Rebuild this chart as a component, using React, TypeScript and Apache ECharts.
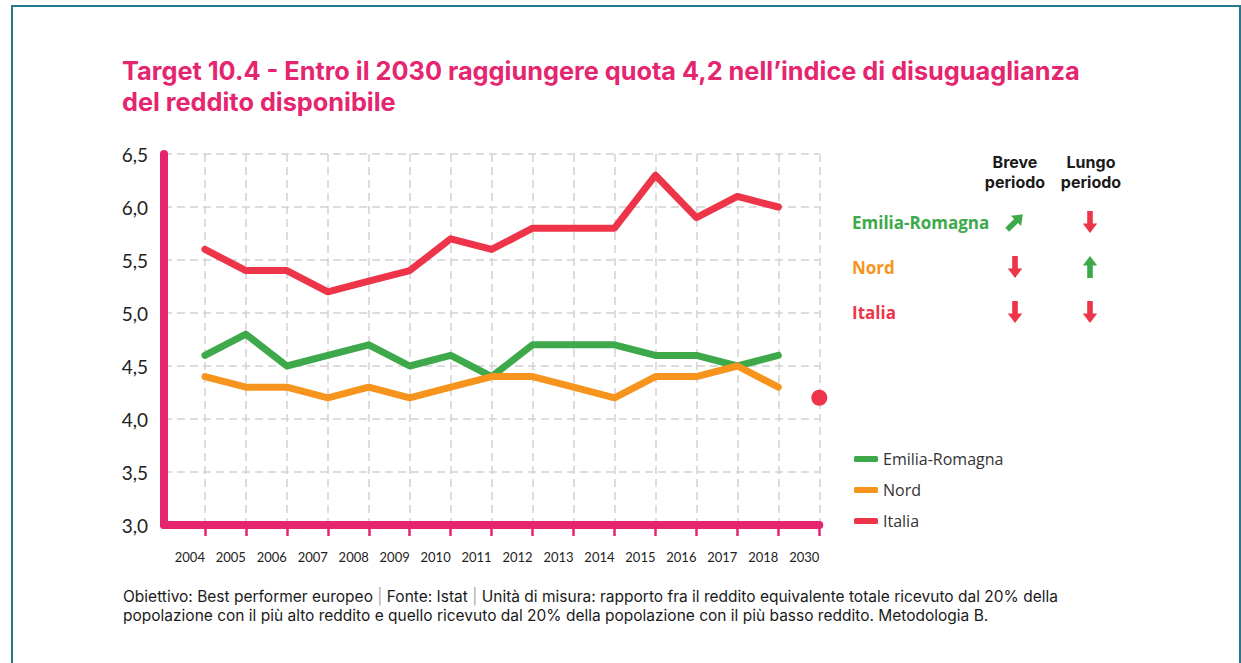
import React, { useEffect, useRef } from "react";
import * as echarts from "echarts";

const categories = ["2004","2005","2006","2007","2008","2009","2010","2011","2012","2013","2014","2015","2016","2017","2018","2030"];
const emiliaRomagna = [4.6,4.8,4.5,4.6,4.7,4.5,4.6,4.4,4.7,4.7,4.7,4.6,4.6,4.5,4.6];
const nord = [4.4,4.3,4.3,4.2,4.3,4.2,4.3,4.4,4.4,4.3,4.2,4.4,4.4,4.5,4.3];
const italia = [5.6,5.4,5.4,5.2,5.3,5.4,5.7,5.6,5.8,5.8,5.8,6.3,5.9,6.1,6.0];
const target2030 = 4.2;
const yTicks = [3.0,3.5,4.0,4.5,5.0,5.5,6.0,6.5];

const titleLines = [
  "Target 10.4 - Entro il 2030 raggiungere quota 4,2 nell’indice di disuguaglianza",
  "del reddito disponibile",
];
const trendRows = ["Emilia-Romagna","Nord","Italia"];
const trendBreve = ["upright","down","down"];
const trendLungo = ["down","up","down"];
const headerLines = [["Breve","periodo"],["Lungo","periodo"]];

const PINK = "#E5256F";
const GREEN = "#3DA94A";
const ORANGE = "#F7941E";
const RED = "#EE3448";
const FONT = "Lato";
const FONT2 = "'Open Sans'";
const FONT3 = "Inter";
const rowColors = [GREEN, ORANGE, RED];

const baseArrow = [[-2.8,-11],[2.8,-11],[2.8,1.5],[7.2,1.5],[0,11],[-7.2,1.5],[-2.8,1.5]];
function arrowPoints(dir: string) {
  const th = dir === "down" ? 0 : dir === "up" ? Math.PI : -3 * Math.PI / 4;
  const c = Math.cos(th), s = Math.sin(th);
  return baseArrow.map(([x, y]) => [x * c - y * s, x * s + y * c]);
}

export default function App() {
  const ref = useRef<HTMLDivElement>(null);
  useEffect(() => {
    document.body.style.margin = "0";
    const chart = echarts.init(ref.current!, null, { renderer: "svg" });
    const axisCats = ["", ...categories];
    const toData = (arr: number[]) => arr.map((v, i) => [categories[i], v]);
    const lineSeries = (name: string, arr: number[], color: string) => ({
      name,
      type: "line",
      data: toData(arr),
      showSymbol: false,
      symbol: "none",
      lineStyle: { width: 7, color, cap: "round", join: "round" },
      itemStyle: { color },
      z: 3,
    });

    const graphics: any[] = [
      {
        type: "rect",
        shape: { x: 12, y: 6, width: 1228, height: 700 },
        style: { fill: "none", stroke: "#26798B", lineWidth: 2 },
        silent: true,
      },
      {
        type: "text",
        x: 123,
        y: 596,
        style: {
          rich: { g: { fill: "#aaaaaa", fontSize: 15.5, fontFamily: FONT3 } },
          text: "Obiettivo: Best performer europeo {g||} Fonte: Istat {g||} Unità di misura: rapporto fra il reddito equivalente totale ricevuto dal 20% della",
          fill: "#1a1a1a",
          font: `15.5px ${FONT3}`,
          verticalAlign: "middle",
        },
      },
      {
        type: "text",
        x: 123,
        y: 615,
        style: {
          text: "popolazione con il più alto reddito e quello ricevuto dal 20% della popolazione con il più basso reddito. Metodologia B.",
          fill: "#1a1a1a",
          font: `15.5px ${FONT3}`,
          verticalAlign: "middle",
        },
      },
    ];
    titleLines.forEach((t, k) => {
      graphics.push({
        type: "text",
        x: 122,
        y: 70.5 + k * 31,
        style: { text: t, fill: PINK, font: `bold 25.3px ${FONT3}`, verticalAlign: "middle" },
      });
    });
    headerLines.forEach((lines, j) => {
      lines.forEach((t, k) => {
        graphics.push({
          type: "text",
          x: j === 0 ? 1015 : 1091,
          y: 162 + k * 19.6,
          style: { text: t, fill: "#1a1a1a", font: `bold 16px ${FONT3}`, align: "center", verticalAlign: "middle" },
        });
      });
    });
    const rowY = [222, 267, 312];
    trendRows.forEach((r, i) => {
      graphics.push({
        type: "text",
        x: 852,
        y: rowY[i],
        style: { text: r, fill: rowColors[i], font: `bold 17px ${FONT2}`, verticalAlign: "middle" },
      });
      [trendBreve[i], trendLungo[i]].forEach((d, j) => {
        graphics.push({
          type: "polygon",
          x: j === 0 ? 1015 : 1090,
          y: rowY[i],
          shape: { points: arrowPoints(d) },
          style: { fill: d === "down" ? RED : GREEN },
        });
      });
    });

    chart.setOption({
      animation: false,
      textStyle: { fontFamily: FONT },
      grid: { left: 164, right: 421.7, top: 154, bottom: 138, containLabel: false },
      legend: {
        data: ["Emilia-Romagna", "Nord", "Italia"],
        orient: "vertical",
        left: 849,
        top: 446,
        icon: "roundRect",
        itemWidth: 24,
        itemHeight: 6,
        itemGap: 15,
        textStyle: { fontSize: 16, color: "#333", fontFamily: "Open Sans", lineHeight: 16 },
      },
      xAxis: {
        type: "category",
        data: axisCats,
        boundaryGap: false,
        axisLine: { lineStyle: { color: PINK, width: 8, cap: "round" } },
        axisTick: { show: true, length: 11, interval: (i: number) => i !== 0, lineStyle: { color: PINK, width: 2.5 } },
        axisLabel: { interval: 0, align: "right", margin: 25, fontSize: 13, color: "#222", fontFamily: FONT },
        splitLine: {
          show: true,
          interval: (i: number) => i !== 0,
          lineStyle: { color: "#d2d2d2", width: 1.5, type: [8, 5] },
        },
      },
      yAxis: {
        type: "value",
        min: 3,
        max: 6.5,
        interval: 0.5,
        axisLine: { show: true, lineStyle: { color: PINK, width: 8, cap: "round" } },
        axisTick: { show: false },
        axisLabel: {
          margin: 16,
          fontSize: 19,
          color: "#222",
          fontFamily: FONT,
          formatter: (v: number) => (yTicks.includes(v) ? v.toFixed(1).replace(".", ",") : ""),
        },
        splitLine: { show: true, lineStyle: { color: "#d2d2d2", width: 1.5, type: [8, 5] } },
      },
      series: [
        lineSeries("Emilia-Romagna", emiliaRomagna, GREEN),
        lineSeries("Nord", nord, ORANGE),
        lineSeries("Italia", italia, RED),
        {
          name: "Target",
          type: "scatter",
          data: [["2030", target2030]],
          symbolSize: 16,
          itemStyle: { color: RED, opacity: 1 },
          z: 4,
        },
      ],
      graphic: graphics,
    });
    return () => chart.dispose();
  }, []);
  return <div ref={ref} style={{ width: 1241, height: 663 }} />;
}
